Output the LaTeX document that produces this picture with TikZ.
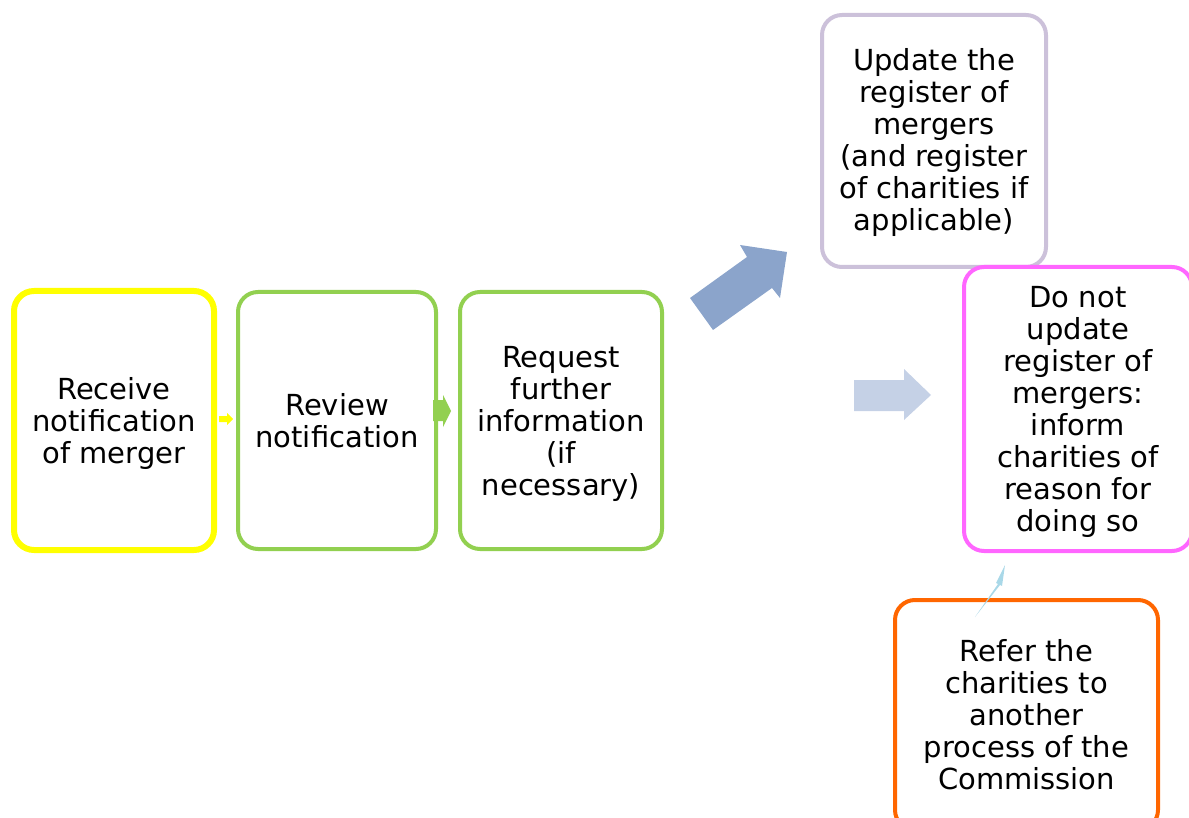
\documentclass[tikz,border=0pt]{standalone}
\usepackage{fontspec}
\setmainfont{DejaVu Sans}
\definecolor{cyel}{HTML}{FFFF00}
\definecolor{cgrn}{HTML}{92D050}
\definecolor{clav}{HTML}{CCC1DA}
\definecolor{cpink}{HTML}{FF66FF}
\definecolor{corg}{HTML}{FF6600}
\definecolor{cblue}{HTML}{8BA4CB}
\definecolor{clblue}{HTML}{C5D1E6}
\definecolor{csky}{HTML}{A9D8E8}
\tikzset{
  procbox/.style={draw, fill=white, rounded corners=20pt, line width=4pt, inner sep=0pt},
  boxtext/.style={align=center, inner sep=0pt, font=\fontsize{29}{32}\selectfont},
}
\begin{document}
\begin{tikzpicture}[x=1pt,y=-1pt]
\useasboundingbox (0,0) rectangle (1189,818);
\clip (0,0) rectangle (1189,818);
% boxes
\node[procbox, draw=cyel, line width=6pt, minimum width=200pt, minimum height=259pt] (recv) at (114,420.5) {};
\node[procbox, draw=cgrn, minimum width=198pt, minimum height=257pt] (review) at (337,420.5) {};
\node[procbox, draw=cgrn, minimum width=202pt, minimum height=257pt] (req) at (561,420.5) {};
\node[procbox, draw=clav, minimum width=224pt, minimum height=252pt] (upd) at (934,141) {};
\node[procbox, draw=cpink, minimum width=228pt, minimum height=284pt] (dont) at (1078,409) {};
\node[procbox, draw=corg, minimum width=263pt, minimum height=230pt] (refer) at (1026.5,715) {};
% texts
\node[boxtext] (recvt) at ([yshift=-3pt]recv.center) {Receive\\notification\\of merger};
\node[boxtext] (reviewt) at (review.center) {Review\\notification};
\node[boxtext] (reqt) at ([yshift=-3pt]req.center) {Request\\further\\information\\(if\\necessary)};
\node[boxtext] (updt) at ([yshift=-2pt]upd.center) {Update the\\register of\\mergers\\(and register\\of charities if\\applicable)};
\node[boxtext] (dontt) at ([yshift=-3pt]dont.center) {Do not\\update\\register of\\mergers:\\inform\\charities of\\reason for\\doing so};
\node[boxtext] (refert) at (refer.center) {Refer the\\charities to\\another\\process of the\\Commission};
% block arrows
\fill[cyel] (219,416) -- (227,416) -- (227,413) -- (233,419) -- (227,425) -- (227,422) -- (219,422) -- cycle;
\fill[cgrn] (433,400) -- (443,400) -- (443,395) -- (451,411) -- (443,427) -- (443,421) -- (433,421) -- cycle;
\fill[cblue] (690,298) -- (747,257) -- (740,245) -- (787,252) -- (780,298) -- (772,288) -- (713,330) -- cycle;
\fill[clblue] (854,380) -- (904,380) -- (904,369) -- (931,395) -- (904,420) -- (904,411) -- (854,411) -- cycle;
\fill[csky] (975,617) -- (998,584) -- (996,583) -- (1005,565) -- (1002,586) -- (1000,585) -- cycle;
\end{tikzpicture}
\end{document}
